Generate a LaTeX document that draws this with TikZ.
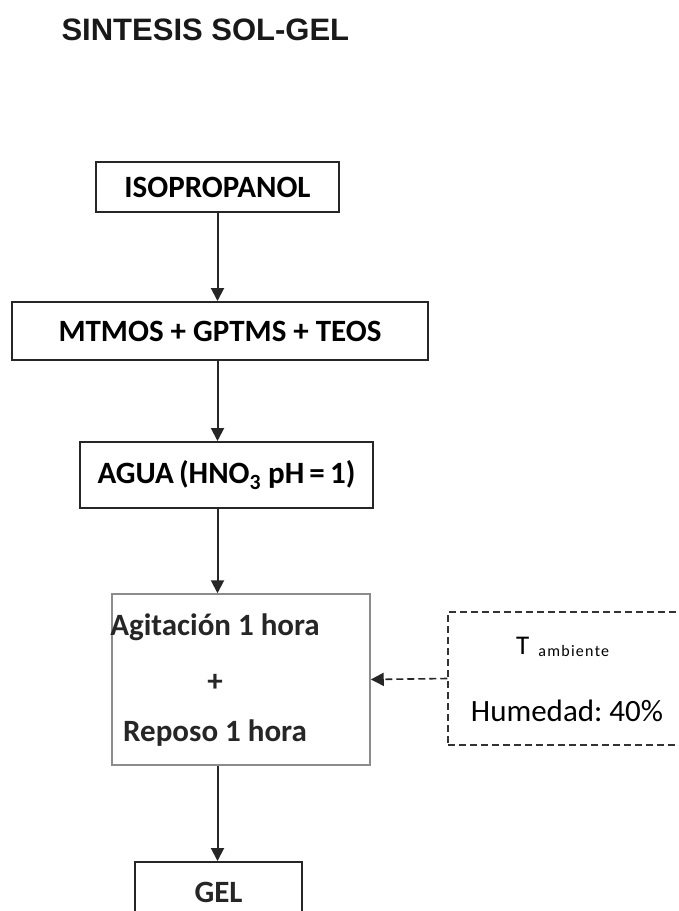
\documentclass[tikz,border=0pt]{standalone}
\usepackage{fontspec}
\setmainfont{Carlito}
\newfontfamily\titlefont{Liberation Sans}
\newfontfamily\subfont[LetterSpace=8]{Carlito}
\usetikzlibrary{arrows.meta}
\frenchspacing
\begin{document}
\begin{tikzpicture}[x=1pt,y=-1pt,
  box/.style={draw=black!85, line width=2pt, inner sep=0pt, font=\fontsize{31}{34}\selectfont\bfseries},
  btxt/.style={font=\fontsize{31}{34}\selectfont\bfseries, text=black!85},
  graybox/.style={draw=black!45, line width=1.5pt, inner sep=0pt},
  dbox/.style={draw=black!80, line width=1.5pt, dash pattern=on 7pt off 4pt, inner sep=0pt},
  arr/.style={draw=black!85, line width=2pt, -{Triangle[width=13pt,length=13pt]}},
  darr/.style={draw=black!85, line width=1.6pt, dash pattern=on 7pt off 4pt, -{Triangle[width=13pt,length=13pt]}}]
\useasboundingbox[fill=white] (0,0) rectangle (679,911);
\clip (0,0) rectangle (679,911);
\node[anchor=west, font=\titlefont\fontsize{31}{34}\selectfont\bfseries, text=black!90] (title) at (58,30) {SINTESIS SOL-GEL};
\node[box, minimum width=243pt, minimum height=50pt] (iso) at (217.5,187) {ISOPROPANOL};
\node[box, minimum width=416pt, minimum height=58pt] (mt) at (220,331) {MTMOS + GPTMS + TEOS};
\node[box, minimum width=293pt, minimum height=66pt] (agua) at (226.5,475) {AGUA\,(HNO\textsubscript{3} pH\,=\,1)};
\node[graybox, minimum width=258pt, minimum height=171pt] (agit) at (241,679.5) {};
\node[btxt] (t1) at (215,627) {Agitación 1 hora};
\node[btxt] (t2) at (215,683) {+};
\node[btxt] (t3) at (215,733) {Reposo 1 hora};
\node[dbox, minimum width=240pt, minimum height=133pt] (amb) at (568,678.5) {};
\node[font=\fontsize{27}{29}\selectfont, anchor=base west, inner sep=0pt] (tamb) at (516,654) {T\hspace{9pt}\raisebox{-2pt}{\subfont\fontsize{16}{17}\selectfont ambiente}};
\node[font=\fontsize{31}{34}\selectfont] (hum) at (567,711) {Humedad: 40\%};
\node[box, minimum width=167pt, minimum height=70pt] (gel) at (218.5,897) {};
\node[btxt] (geltxt) at (218.5,892) {GEL};
\draw[arr] (iso.south) -- (mt.north -| iso.south);
\draw[arr] (mt.south -| iso.south) -- (agua.north -| iso.south);
\draw[arr] (agua.south -| iso.south) -- (agit.north -| iso.south);
\draw[arr] (agit.south -| iso.south) -- (gel.north -| iso.south);
\draw[darr] (amb.west) -- (agit.east);
\end{tikzpicture}
\end{document}
